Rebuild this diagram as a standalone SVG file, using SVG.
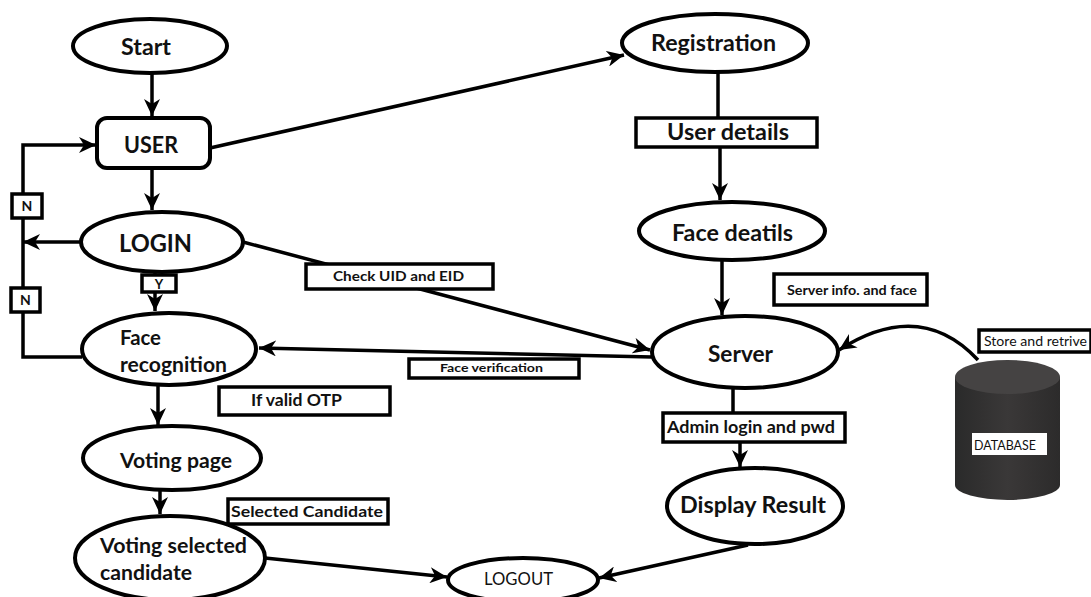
<svg xmlns="http://www.w3.org/2000/svg" width="1091" height="597" viewBox="0 0 1091 597">
<style>
.n{fill:#fff;stroke:#000;stroke-width:4}
.c{fill:none;stroke:#000;stroke-width:3.5}
.lb{fill:#fff;stroke:#000;stroke-width:3.5}
.t{font-family:Lato,"Liberation Sans",sans-serif;font-weight:bold;fill:#111}
.r{font-family:Lato,"Liberation Sans",sans-serif;font-weight:normal;fill:#111}
.m{text-anchor:middle}
</style>
<defs>
<marker id="ah" markerUnits="userSpaceOnUse" markerWidth="18" markerHeight="16" refX="17" refY="8" orient="auto">
<path d="M0,0 L17,8 L0,16 L5,8 z" fill="#000"/>
</marker>
<linearGradient id="db" x1="0" x2="1" y1="0" y2="0">
<stop offset="0" stop-color="#2a2a2a"/>
<stop offset="0.5" stop-color="#3a3838"/>
<stop offset="1" stop-color="#2c2b2b"/>
</linearGradient>
</defs>
<rect width="1091" height="597" fill="#fff"/>
<g id="connectors">
<path class="c" d="M152,73 L152,116" marker-end="url(#ah)"/>
<path class="c" d="M152,168 L152,210" marker-end="url(#ah)"/>
<path class="c" d="M210,148 L624,55" marker-end="url(#ah)"/>
<path class="c" d="M718,72 L718,118"/>
<path class="c" d="M720,147 L720,200" marker-end="url(#ah)"/>
<path class="c" d="M722,260 L722,315" marker-end="url(#ah)"/>
<path class="c" d="M243,242 L650,350" marker-end="url(#ah)"/>
<path class="c" d="M652,357 L259,348" marker-end="url(#ah)"/>
<path class="c" d="M81,242 L23,242" marker-end="url(#ah)"/>
<path class="c" d="M82,357 L23,357 L23,145 L96,145" marker-end="url(#ah)"/>
<path class="c" d="M155,272 L155,311" marker-end="url(#ah)"/>
<path class="c" d="M158,385 L158,425" marker-end="url(#ah)"/>
<path class="c" d="M160,490 L160,514" marker-end="url(#ah)"/>
<path class="c" d="M265,558 L447,577" marker-end="url(#ah)"/>
<path class="c" d="M733,388 L733,412"/>
<path class="c" d="M740,442 L740,467" marker-end="url(#ah)"/>
<path class="c" d="M748,545 L599,578" marker-end="url(#ah)"/>
<path class="c" d="M978,360 Q920,298 839,350" marker-end="url(#ah)"/>
</g>
<g id="start"><ellipse class="n" cx="150" cy="46" rx="77" ry="27"/><text class="t" x="121" y="55" font-size="23" textLength="50" lengthAdjust="spacingAndGlyphs">Start</text></g>
<g id="user"><rect class="n" x="97" y="118" width="113" height="50" rx="10"/><text class="t" x="124" y="153" font-size="23" textLength="54" lengthAdjust="spacingAndGlyphs">USER</text></g>
<g id="login"><ellipse class="n" cx="162" cy="242" rx="81" ry="30"/><text class="t" x="119" y="252" font-size="25" textLength="73" lengthAdjust="spacingAndGlyphs">LOGIN</text></g>
<g id="face-recognition"><ellipse class="n" cx="169" cy="349" rx="87" ry="36"/><text class="t" x="120" y="345" font-size="20" textLength="41" lengthAdjust="spacingAndGlyphs">Face</text><text class="t" x="120" y="372" font-size="20" textLength="107" lengthAdjust="spacingAndGlyphs">recognition</text></g>
<g id="voting-page"><ellipse class="n" cx="172" cy="458" rx="89" ry="32"/><text class="t" x="120" y="468" font-size="20" textLength="112" lengthAdjust="spacingAndGlyphs">Voting page</text></g>
<g id="voting-selected"><ellipse class="n" cx="170" cy="558" rx="95" ry="42"/><text class="t" x="100" y="553" font-size="20" textLength="147" lengthAdjust="spacingAndGlyphs">Voting selected</text><text class="t" x="100" y="580" font-size="20" textLength="92" lengthAdjust="spacingAndGlyphs">candidate</text></g>
<g id="logout"><ellipse class="n" cx="523" cy="580" rx="75" ry="22"/><text class="r" x="484" y="585" font-size="17" textLength="69" lengthAdjust="spacingAndGlyphs">LOGOUT</text></g>
<g id="registration"><ellipse class="n" cx="715" cy="43" rx="93" ry="29"/><text class="t" x="651" y="51" font-size="23" textLength="125" lengthAdjust="spacingAndGlyphs">Registration</text></g>
<g id="face-details"><ellipse class="n" cx="732" cy="231" rx="93" ry="29"/><text class="t" x="672" y="241" font-size="23" textLength="121" lengthAdjust="spacingAndGlyphs">Face deatils</text></g>
<g id="server"><ellipse class="n" cx="745" cy="352" rx="93" ry="36"/><text class="t" x="708" y="362" font-size="22" textLength="65" lengthAdjust="spacingAndGlyphs">Server</text></g>
<g id="display-result"><ellipse class="n" cx="755" cy="506" rx="88" ry="38"/><text class="t" x="680" y="513" font-size="22" textLength="146" lengthAdjust="spacingAndGlyphs">Display Result</text></g>
<g id="database">
<path d="M955,377 L955,485 A52.5,15 0 0 0 1060,485 L1060,377 Z" fill="url(#db)"/>
<ellipse cx="1007.5" cy="377" rx="52.5" ry="17" fill="#454343"/>
<rect x="972" y="433" width="75" height="22" fill="#fff"/>
<text class="r" x="974" y="450" font-size="13" fill="#000" textLength="62" lengthAdjust="spacingAndGlyphs">DATABASE</text>
</g>
<g id="label-user-details"><rect class="lb" x="636" y="118" width="181" height="29"/><text class="t" x="667" y="140" font-size="22" textLength="122" lengthAdjust="spacingAndGlyphs">User details</text></g>
<g id="label-check"><rect class="lb" x="306" y="264" width="187" height="25"/><text class="t" x="333" y="281" font-size="13" textLength="131" lengthAdjust="spacingAndGlyphs">Check UID and EID</text></g>
<g id="label-server-info"><rect class="lb" x="774" y="274" width="153" height="31"/><text class="t" x="787" y="295" font-size="13" textLength="130" lengthAdjust="spacingAndGlyphs">Server info. and face</text></g>
<g id="label-store"><rect class="lb" x="979" y="330" width="112" height="22"/><text class="r" x="984" y="346" font-size="14" textLength="103" lengthAdjust="spacingAndGlyphs">Store and retrive</text></g>
<g id="label-face-verification"><rect class="lb" x="409" y="359" width="170" height="19"/><text class="t" x="440" y="372" font-size="12" textLength="103" lengthAdjust="spacingAndGlyphs">Face verification</text></g>
<g id="label-otp"><rect class="lb" x="219" y="387" width="171" height="28"/><text class="t" x="251" y="406" font-size="17" textLength="91" lengthAdjust="spacingAndGlyphs">If valid OTP</text></g>
<g id="label-selected"><rect class="lb" x="228" y="499" width="160" height="25"/><text class="t" x="231" y="517" font-size="16" textLength="152" lengthAdjust="spacingAndGlyphs">Selected Candidate</text></g>
<g id="label-admin"><rect class="lb" x="663" y="413" width="182" height="29"/><text class="t" x="667" y="433" font-size="17" textLength="168" lengthAdjust="spacingAndGlyphs">Admin login and pwd</text></g>
<g id="label-n1"><rect class="lb" x="12" y="194" width="30" height="24"/><text class="t m" x="27" y="211" font-size="14">N</text></g>
<g id="label-n2"><rect class="lb" x="11" y="288" width="29" height="24"/><text class="t m" x="25.5" y="305" font-size="14">N</text></g>
<g id="label-y"><rect class="lb" x="142" y="275" width="34" height="17"/><text class="t m" x="159" y="289" font-size="13">Y</text></g>
</svg>
